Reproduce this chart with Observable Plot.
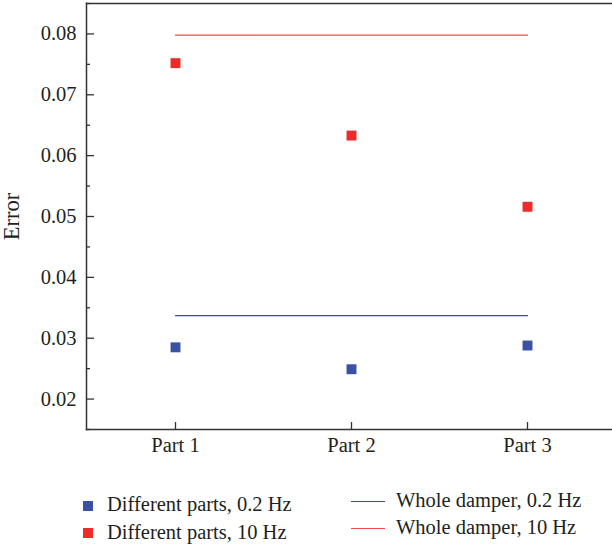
<!DOCTYPE html>
<html><head><meta charset="utf-8">
<script src="https://cdn.jsdelivr.net/npm/d3@7"></script>
<script src="https://cdn.jsdelivr.net/npm/@observablehq/plot@0.6"></script>
<style>
body{margin:0;background:#fff;font-family:"Liberation Serif",serif;}
#wrap{position:relative;width:612px;height:548px;overflow:hidden;}
#wrap svg text{font-family:"Liberation Serif",serif !important;font-size:20.5px;font-variant-numeric:normal !important;fill:#231f20;}
#wrap svg g[aria-label="y-axis label"] text{font-size:22.5px;}
.leg{position:absolute;font-size:20.5px;color:#231f20;white-space:nowrap;line-height:1;}
.sq{position:absolute;width:10px;height:10px;}
.ln{position:absolute;width:34px;height:0;}
</style></head>
<body><div id="wrap"></div>
<script>
const parts = ["Part 1", "Part 2", "Part 3"];
const diffParts02 = [0.0285, 0.0249, 0.0288];
const diffParts10 = [0.0752, 0.0633, 0.0516];
const whole02 = 0.0337;
const whole10 = 0.0798;
const majorTicks = [0.02, 0.03, 0.04, 0.05, 0.06, 0.07, 0.08];
const minorTicks = [0.015, 0.025, 0.035, 0.045, 0.055, 0.065, 0.075, 0.085];
const legendItems = ["Different parts, 0.2 Hz", "Different parts, 10 Hz", "Whole damper, 0.2 Hz", "Whole damper, 10 Hz"];
const colors = {sq02: "#3a52a3", sq10: "#ee2a2a", ln02: "#3a4ca6", ln10: "#f24a4a"};

const pts02 = parts.map((p, i) => ({part: p, v: diffParts02[i]}));
const pts10 = parts.map((p, i) => ({part: p, v: diffParts10[i]}));
const axisColor = "#333";

const chart = Plot.plot({
  width: 612, height: 460,
  marginLeft: 86, marginRight: -3, marginTop: 3, marginBottom: 31,
  style: {fontFamily: "Liberation Serif", fontSize: "20.5px", color: "#231f20", overflow: "visible"},
  x: {type: "point", domain: parts, padding: 0.5},
  y: {domain: [0.015, 0.085]},
  marks: [
    Plot.axisY(majorTicks, {tickSize: -8, text: null, stroke: axisColor, strokeWidth: 1.3, label: null}),
    Plot.axisY(minorTicks, {tickSize: -4, text: null, stroke: axisColor, strokeWidth: 1.3, label: null}),
    Plot.axisY(majorTicks, {tickSize: 0, tickPadding: 10, tickFormat: d3.format(".2f"), label: "Error", labelAnchor: "center", labelArrow: "none", labelOffset: 83}),
    Plot.axisX(parts, {tickSize: -7, text: null, stroke: axisColor, strokeWidth: 1.3, label: null}),
    Plot.axisX(parts, {tickSize: 0, tickPadding: 8, label: null}),
    Plot.frame({anchor: "left", stroke: axisColor, strokeWidth: 1.5}),
    Plot.frame({anchor: "bottom", stroke: axisColor, strokeWidth: 1.5}),
    Plot.frame({anchor: "top", stroke: axisColor, strokeWidth: 1.5}),
    Plot.line(parts, {x: d => d, y: () => whole10, stroke: colors.ln10, strokeWidth: 1.3}),
    Plot.line(parts, {x: d => d, y: () => whole02, stroke: colors.ln02, strokeWidth: 1.3}),
    Plot.dot(pts10, {x: "part", y: "v", symbol: "square", r: 5.6, fill: colors.sq10, stroke: null}),
    Plot.dot(pts02, {x: "part", y: "v", symbol: "square", r: 5.6, fill: colors.sq02, stroke: null})
  ]
});
const wrap = document.getElementById("wrap");
wrap.appendChild(chart);

function add(html){ const d = document.createElement("div"); d.innerHTML = html; wrap.appendChild(d.firstChild); }
add(`<div class="sq" style="left:83px;top:501px;background:${colors.sq02}"></div>`);
add(`<div class="sq" style="left:83px;top:528px;background:${colors.sq10}"></div>`);
add(`<div class="leg" style="left:107px;top:494px">${legendItems[0]}</div>`);
add(`<div class="leg" style="left:107px;top:522px">${legendItems[1]}</div>`);
add(`<div class="ln" style="left:351px;top:501px;border-top:1.3px solid ${colors.ln02}"></div>`);
add(`<div class="ln" style="left:351px;top:527.5px;border-top:1.3px solid ${colors.ln10}"></div>`);
add(`<div class="leg" style="left:396px;top:489.5px">${legendItems[2]}</div>`);
add(`<div class="leg" style="left:396px;top:517px">${legendItems[3]}</div>`);
</script></body></html>
